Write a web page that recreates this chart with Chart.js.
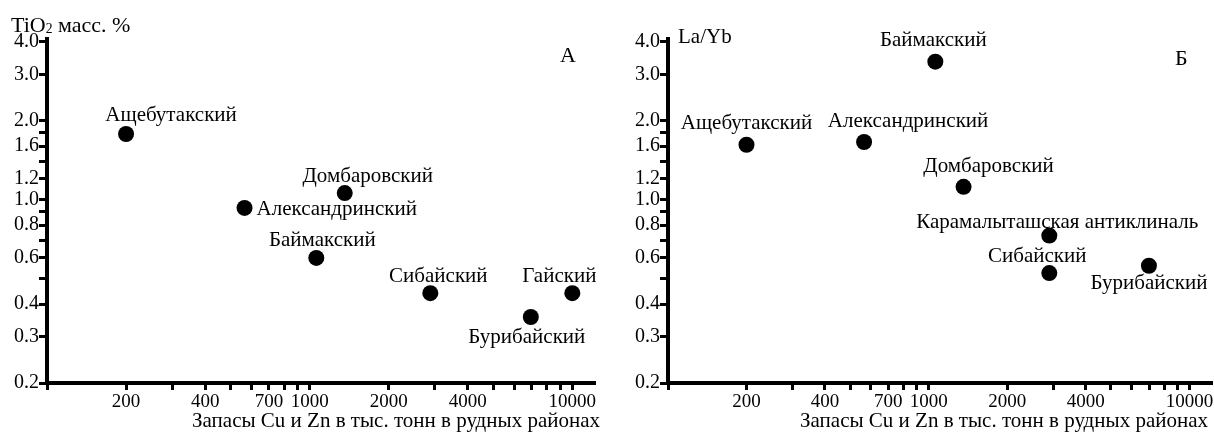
<!DOCTYPE html>
<html lang="ru">
<head>
<meta charset="utf-8">
<title>TiO2 и La/Yb в зависимости от запасов Cu и Zn</title>
<script src="https://cdn.jsdelivr.net/npm/chart.js@4.4.1/dist/chart.umd.min.js"></script>
<style>
  html, body { margin: 0; padding: 0; background: #fff; }
  body { position: relative; width: 1214px; height: 432px; overflow: hidden; }
  canvas { position: absolute; top: 0; }
  #chartA { left: 0; }
  #chartB { left: 605px; }
</style>
</head>
<body>
<canvas id="chartA" width="605" height="432"></canvas>
<canvas id="chartB" width="615" height="432"></canvas>
<script>
// Panel A - TiO2, mass %
const namesA = ['Ащебутакский', 'Александринский', 'Домбаровский', 'Баймакский', 'Сибайский', 'Бурибайский', 'Гайский'];
const reservesA = [200, 565, 1360, 1060, 2880, 6950, 10000];
const tio2 = [1.78, 0.93, 1.06, 0.60, 0.44, 0.357, 0.44];

// Panel B - La/Yb
const namesB = ['Ащебутакский', 'Александринский', 'Баймакский', 'Домбаровский', 'Карамалыташская антиклиналь', 'Сибайский', 'Бурибайский'];
const reservesB = [200, 565, 1060, 1360, 2900, 2900, 6990];
const laYb = [1.62, 1.66, 3.36, 1.12, 0.73, 0.525, 0.56];

// axes
const xTickValues = [100, 200, 300, 400, 500, 600, 700, 800, 900, 1000, 2000, 3000, 4000, 5000, 6000, 7000, 8000, 9000, 10000];
const xTickLabels = [200, 400, 700, 1000, 2000, 4000, 10000];
const yTickValues = [0.2, 0.3, 0.4, 0.5, 0.6, 0.7, 0.8, 0.9, 1.0, 1.2, 1.4, 1.6, 1.8, 2.0, 3.0, 4.0];
const yTickLabels = [0.2, 0.3, 0.4, 0.6, 0.8, 1.0, 1.2, 1.6, 2.0, 3.0, 4.0];
const xTitle = 'Запасы Cu и Zn в тыс. тонн в рудных районах';

const SERIF = '"Liberation Serif", "Times New Roman", serif';

// where each name sits relative to its dot: [dx, dy, align]
const placeA = [[45, -13, 'center'], [12, 7, 'left'], [23, -11, 'center'], [6, -12, 'center'],
                [8, -11, 'center'], [-4, 26, 'center'], [-13, -11, 'center']];
const placeB = [[0, -16, 'center'], [44, -15, 'center'], [-2, -16, 'center'], [25, -15, 'center'],
                [8, -8, 'center'], [-12, -11, 'center'], [0, 23, 'center']];

function makeChart(id, cfg) {
  const textPlugin = {
    id: 'texts',
    afterDatasetsDraw(chart) {
      const ctx = chart.ctx;
      const area = chart.chartArea;
      ctx.save();
      ctx.fillStyle = '#000';
      ctx.textBaseline = 'alphabetic';
      ctx.font = '21px ' + SERIF;
      chart.getDatasetMeta(0).data.forEach((pt, i) => {
        const p = cfg.place[i];
        ctx.textAlign = p[2];
        ctx.fillText(cfg.names[i], pt.x + p[0], pt.y + p[1]);
      });

      // panel letter
      ctx.font = '22px ' + SERIF;
      ctx.textAlign = 'left';
      ctx.fillText(cfg.letter, cfg.letterPos[0], cfg.letterPos[1]);

      // y title, horizontal at the top
      let x = cfg.yTitlePos[0];
      const y = cfg.yTitlePos[1];
      cfg.yTitle.forEach(part => {
        ctx.font = (part.sub ? cfg.yTitleSize * 0.62 : cfg.yTitleSize) + 'px ' + SERIF;
        ctx.fillText(part.text, x, y + (part.sub ? 1 : 0));
        x += ctx.measureText(part.text).width;
      });

      // x title, right aligned at the end of the axis
      ctx.font = '21px ' + SERIF;
      ctx.textAlign = 'right';
      ctx.fillText(xTitle, area.right + cfg.xTitleDx, 427);
      ctx.restore();
    }
  };

  return new Chart(document.getElementById(id), {
    type: 'scatter',
    data: {
      datasets: [{
        data: cfg.xs.map((x, i) => ({ x: x, y: cfg.ys[i] })),
        backgroundColor: '#000',
        borderWidth: 0,
        pointRadius: 8,
        pointHoverRadius: 8
      }]
    },
    options: {
      responsive: false,
      animation: false,
      devicePixelRatio: 1,
      layout: { padding: { top: 39, right: cfg.padRight, bottom: 0, left: 0 } },
      plugins: {
        legend: { display: false },
        tooltip: { enabled: false }
      },
      scales: {
        x: {
          type: 'logarithmic',
          min: 100,
          max: 12200,
          border: { display: true, color: '#000', width: 4 },
          grid: { drawOnChartArea: false, drawTicks: true, tickLength: 7, tickWidth: 3, color: '#000' },
          ticks: {
            autoSkip: false,
            maxRotation: 0,
            padding: 1,
            color: '#000',
            font: { family: SERIF, size: 19 },
            callback: v => xTickLabels.includes(v) ? String(v) : ''
          },
          afterBuildTicks: s => { s.ticks = xTickValues.map(v => ({ value: v })); },
          afterFit: s => { s.height = 49; s.paddingLeft = 0; s.paddingRight = 0; }
        },
        y: {
          type: 'logarithmic',
          min: 0.2,
          max: 4.1,
          border: { display: true, color: '#000', width: 4 },
          grid: { drawOnChartArea: false, drawTicks: true, tickLength: 8, tickWidth: 3, color: '#000' },
          ticks: {
            autoSkip: false,
            padding: 0,
            color: '#000',
            font: { family: SERIF, size: 20 },
            callback: v => yTickLabels.includes(v) ? v.toFixed(1) : ''
          },
          afterBuildTicks: s => { s.ticks = yTickValues.map(v => ({ value: v })); },
          afterFit: s => { s.width = cfg.yWidth; s.paddingTop = 0; s.paddingBottom = 0; }
        }
      }
    },
    plugins: [textPlugin]
  });
}

makeChart('chartA', {
  xs: reservesA, ys: tio2, names: namesA, place: placeA,
  yWidth: 47, padRight: 10,
  letter: 'А', letterPos: [560, 62],
  yTitle: [{ text: 'TiO' }, { text: '2', sub: true }, { text: ' масс. %' }],
  yTitleSize: 22,
  yTitlePos: [11, 32],
  xTitleDx: 5
});

makeChart('chartB', {
  xs: reservesB, ys: laYb, names: namesB, place: placeB,
  yWidth: 63, padRight: 3,
  letter: 'Б', letterPos: [570, 65],
  yTitle: [{ text: 'La/Yb' }],
  yTitleSize: 21,
  yTitlePos: [73, 43],
  xTitleDx: -4
});
</script>
</body>
</html>
